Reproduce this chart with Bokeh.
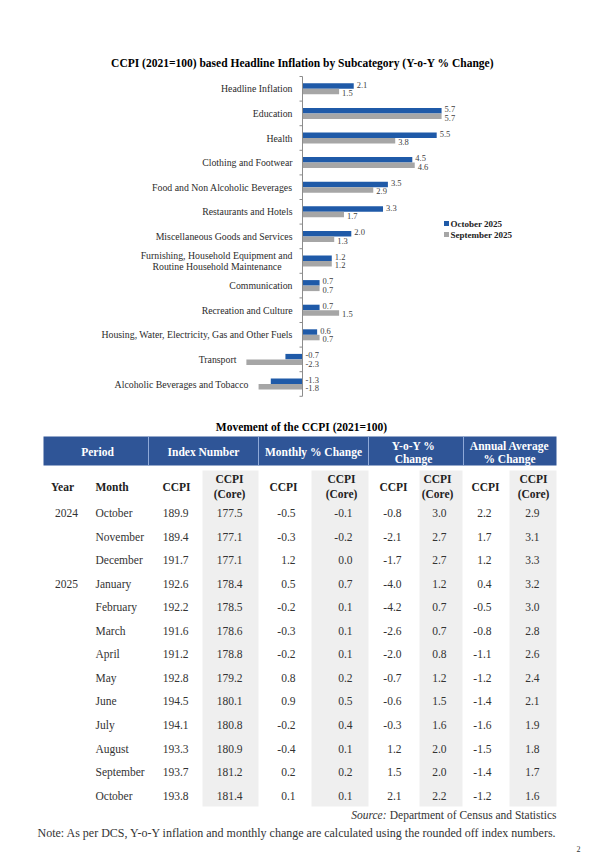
import numpy as np
from bokeh.plotting import figure
from bokeh.models import Range1d
from bokeh.core.properties import value
from bokeh.embed import file_html
from bokeh.resources import INLINE

FONT = "Liberation Serif"

# ---------------- data: chart ----------------
chart_title = "CCPI (2021=100) based Headline Inflation by Subcategory (Y-o-Y % Change)"
categories = [
    "Headline Inflation",
    "Education",
    "Health",
    "Clothing and Footwear",
    "Food and Non Alcoholic Beverages",
    "Restaurants and Hotels",
    "Miscellaneous Goods and Services",
    "Furnishing, Household Equipment and\nRoutine Household Maintenance",
    "Communication",
    "Recreation and Culture",
    "Housing, Water, Electricity, Gas and Other Fuels",
    "Transport",
    "Alcoholic Beverages and Tobacco",
]
oct_2025 = [2.1, 5.7, 5.5, 4.5, 3.5, 3.3, 2.0, 1.2, 0.7, 0.7, 0.6, -0.7, -1.3]
sep_2025 = [1.5, 5.7, 3.8, 4.6, 2.9, 1.7, 1.3, 1.2, 0.7, 1.5, 0.7, -2.3, -1.8]
series_names = ["October 2025", "September 2025"]

# ---------------- data: table ----------------
table_title = "Movement of the CCPI (2021=100)"
group_headers = ["Period", "Index Number", "Monthly % Change", "Y-o-Y %\nChange", "Annual Average\n% Change"]
sub_headers = ["CCPI", "CCPI\n(Core)", "CCPI", "CCPI\n(Core)", "CCPI", "CCPI\n(Core)", "CCPI", "CCPI\n(Core)"]
years = ["2024", "", "", "2025", "", "", "", "", "", "", "", "", ""]
months = ["October", "November", "December", "January", "February", "March", "April",
          "May", "June", "July", "August", "September", "October"]
index_ccpi = [189.9, 189.4, 191.7, 192.6, 192.2, 191.6, 191.2, 192.8, 194.5, 194.1, 193.3, 193.7, 193.8]
index_core = [177.5, 177.1, 177.1, 178.4, 178.5, 178.6, 178.8, 179.2, 180.1, 180.8, 180.9, 181.2, 181.4]
monthly_ccpi = [-0.5, -0.3, 1.2, 0.5, -0.2, -0.3, -0.2, 0.8, 0.9, -0.2, -0.4, 0.2, 0.1]
monthly_core = [-0.1, -0.2, 0.0, 0.7, 0.1, 0.1, 0.1, 0.2, 0.5, 0.4, 0.1, 0.2, 0.1]
yoy_ccpi = [-0.8, -2.1, -1.7, -4.0, -4.2, -2.6, -2.0, -0.7, -0.6, -0.3, 1.2, 1.5, 2.1]
yoy_core = [3.0, 2.7, 2.7, 1.2, 0.7, 0.7, 0.8, 1.2, 1.5, 1.6, 2.0, 2.0, 2.2]
annual_ccpi = [2.2, 1.7, 1.2, 0.4, -0.5, -0.8, -1.1, -1.2, -1.4, -1.6, -1.5, -1.4, -1.2]
annual_core = [2.9, 3.1, 3.3, 3.2, 3.0, 2.8, 2.6, 2.4, 2.1, 1.9, 1.8, 1.7, 1.6]
source_label = "Source:"
source_text = "Department of Census and Statistics"
note_text = "Note: As per DCS, Y-o-Y inflation and monthly change are calculated using the rounded off index numbers."
page_number = "2"

# ---------------- layout helpers (picture pixel -> data units) ----------------
W, H = 600, 854
SX = 24.4      # px per % point
AXIS_PX = 302  # x of the zero line
SY = 24.6      # px per category
TOP_PX = 76    # y of top of category axis


def X(px):
    return (px - AXIS_PX) / SX


def Y(py):
    return (py - TOP_PX) / SY - 0.5


BLUE = "#1f5aa8"
GREY = "#a6a6a6"
TXT = "#333333"
HEAD_BLUE = "#2f5597"

p = figure(width=W, height=H, x_range=Range1d(X(0), X(W)), y_range=Range1d(Y(H), Y(0)),
           x_axis_type=None, y_axis_type=None, output_backend="svg", toolbar_location=None,
           min_border=0, outline_line_color=None, background_fill_color="white",
           border_fill_color="white")


def txt(x, y, t, size, align="left", bold=False, italic=False, color=TXT, x_offset=0, baseline="middle"):
    style = "bold" if bold else ("italic" if italic else "normal")
    if not isinstance(t, list):
        x, y, t = [x], [y], [t]
    p.text(x=x, y=y, text=t, text_font=value(FONT), text_font_size=f"{size}px", text_align=align,
           text_baseline=baseline, text_color=color, text_font_style=style, x_offset=x_offset)


# ---------------- bar chart ----------------
idx = np.arange(len(categories))
octv = np.array(oct_2025)
sepv = np.array(sep_2025)
BH = 5.5 / SY

txt(X(302), Y(62), chart_title, 11.5, align="center", bold=True, color="#000000")

p.hbar(y=idx - BH / 2, left=0, right=octv, height=BH, fill_color=BLUE, line_color=None)
p.hbar(y=idx + BH / 2, left=0, right=sepv, height=BH, fill_color=GREY, line_color=None)

# zero axis with ticks at category boundaries
bounds = np.arange(len(categories) + 1) - 0.5
p.segment(x0=[0], y0=[bounds[0]], x1=[0], y1=[bounds[-1]], line_color="#8c8c8c", line_width=1)
p.segment(x0=np.zeros(len(bounds)), y0=bounds, x1=np.full(len(bounds), -3 / SX), y1=bounds,
          line_color="#8c8c8c", line_width=1)

# value labels
lab_off = 4.2 / SY
txt(list(np.maximum(octv, 0)), list(idx - lab_off), [f"{v:.1f}" for v in octv], 8.5, x_offset=3, color="#404040")
txt(list(np.maximum(sepv, 0)), list(idx + lab_off), [f"{v:.1f}" for v in sepv], 8.5, x_offset=3, color="#404040")

# category labels (left of the lowest bar end)
for i, c in enumerate(categories):
    xmin = min(0.0, oct_2025[i], sep_2025[i])
    lines = c.split("\n")
    n = len(lines)
    for k, line in enumerate(lines):
        dy = (k - (n - 1) / 2) * 11.0 / SY
        extra = -11 if k > 0 else 0
        txt(xmin, i + dy, line, 9.8, align="right", x_offset=-10 + extra, color="#2b2b2b")

# legend
p.scatter(x=[X(446), X(446)], y=[Y(223), Y(234)], marker="square", size=5,
          fill_color=[BLUE, GREY], line_color=None)
txt([X(450), X(450)], [Y(223), Y(234)], series_names, 9, bold=True, color="#222222")

# ---------------- table ----------------
txt(X(301), Y(426), table_title, 11.5, align="center", bold=True, color="#000000")

# header band
p.quad(left=[X(43)], right=[X(556)], top=[Y(436)], bottom=[Y(465)], fill_color=HEAD_BLUE, line_color=None)
divs = [148, 258, 368, 463]
p.segment(x0=[X(d) for d in divs], y0=[Y(436)] * 4, x1=[X(d) for d in divs], y1=[Y(465)] * 4,
          line_color="#8fa9d8", line_width=1)

group_cx = [97, 203, 313, 413, 509]
for cx, g in zip(group_cx, group_headers):
    lines = g.split("\n")
    if len(lines) == 1:
        txt(X(cx), Y(451), g, 11.5, align="center", bold=True, color="white")
    else:
        txt(X(cx), Y(445), lines[0], 11.5, align="center", bold=True, color="white")
        txt(X(cx), Y(458.5), lines[1], 11.5, align="center", bold=True, color="white")

# grey core columns
core_cols = [(202, 258), (311, 368), (419, 462), (509, 556)]
p.quad(left=[X(a) for a, b in core_cols], right=[X(b) for a, b in core_cols],
       top=[Y(470)] * 4, bottom=[Y(806)] * 4, fill_color="#efefef", line_color=None)

# sub header row
txt(X(62), Y(486), "Year", 11.5, align="center", bold=True, color="#222222")
txt(X(95), Y(486), "Month", 11.5, align="left", bold=True, color="#222222")
sub_cx = [176, 229, 283, 341, 393, 437, 485, 533]
for cx, s in zip(sub_cx, sub_headers):
    lines = s.split("\n")
    if len(lines) == 1:
        txt(X(cx), Y(486), s, 11.5, align="center", bold=True, color="#222222")
    else:
        txt(X(cx), Y(478.5), lines[0], 11.5, align="center", bold=True, color="#222222")
        txt(X(cx), Y(493.5), lines[1], 11.5, align="center", bold=True, color="#222222")

# data rows
ROW0, ROWH = 512.7, 23.53
row_y = [Y(ROW0 + r * ROWH) for r in range(len(months))]
txt([X(66)] * len(years), row_y, years, 11.5, align="center")
txt([X(95)] * len(months), row_y, months, 11.5, align="left")
cols = [index_ccpi, index_core, monthly_ccpi, monthly_core, yoy_ccpi, yoy_core, annual_ccpi, annual_core]
right_x = [188, 242, 295, 352, 401, 446, 491, 539]
for rx, col in zip(right_x, cols):
    txt([X(rx)] * len(col), row_y, [f"{v:.1f}" for v in col], 11.5, align="right")

# source and note
txt(X(556), Y(814), source_text, 11.5, align="right")
txt(X(386), Y(814), source_label, 11.5, align="right", italic=True)
txt(X(37), Y(832), note_text, 12, align="left")
txt(X(578), Y(848), page_number, 8, align="center")

open("out.html", "w").write(file_html(p, INLINE))
